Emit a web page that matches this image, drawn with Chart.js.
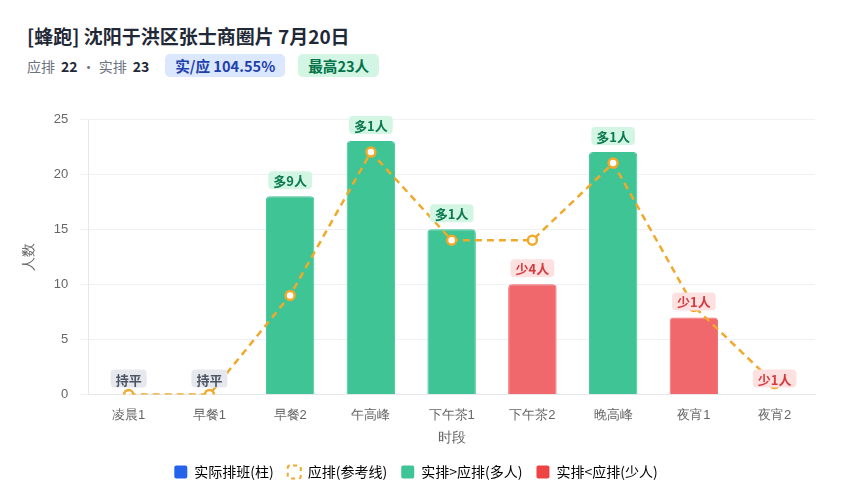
<!DOCTYPE html>
<html>
<head>
<meta charset="utf-8">
<script src="https://cdn.jsdelivr.net/npm/chart.js@4"></script>
<style>
  body { margin: 0; background: #fff; font-family: "Noto Sans CJK SC", "Noto Sans", sans-serif; }
  .head { position: absolute; left: 27px; top: 23px; }
  .title { font-size: 19px; font-weight: 700; color: #1f2937; line-height: 26px; }
  .sub { margin-top: 5px; font-size: 14px; color: #6b7280; display: flex; align-items: center; }
  .sub b { color: #1f2937; font-size: 14px; margin: 0 4px 0 6px; }
  .pill { font-weight: 700; font-size: 14.6px; padding: 2px 10px; border-radius: 5px; line-height: 19px; }
  .blue { background: #dbe7fc; color: #1e40af; margin-left: 12px; }
  .green { background: #d3f6e4; color: #05734a; margin-left: 13px; }
  .wrap { position: absolute; left: 0; top: 95px; width: 848px; height: 405px; }
</style>
</head>
<body>
<div class="head">
  <div class="title">[蜂跑] 沈阳于洪区张士商圈片 7月20日</div>
  <div class="sub">应排<b>22</b>· 实排<b>23</b><span class="pill blue">实/应 104.55%</span><span class="pill green">最高23人</span></div>
</div>
<div class="wrap"><canvas id="c"></canvas></div>
<script>
// 时段
const slots = ["凌晨1", "早餐1", "早餐2", "午高峰", "下午茶1", "下午茶2", "晚高峰", "夜宵1", "夜宵2"];
// 实际排班
const actual = [0, 0, 18, 23, 15, 10, 22, 7, 0];
// 应排
const planned = [0, 0, 9, 22, 14, 14, 21, 8, 1];
const yTicks = [0, 5, 10, 15, 20, 25];

const GREEN = "#3fc495", RED = "#f0686b", ORANGE = "#f0a92a";

const barColors = actual.map((v, i) => v >= planned[i] ? GREEN : RED);

// labels above bars: 多N人 / 少N人 / 持平
const diffLabels = {
    id: "diffLabels",
    afterDatasetsDraw(chart) {
        const ctx = chart.ctx;
        const meta = chart.getDatasetMeta(1);
        ctx.save();
        ctx.font = "bold 13px 'Noto Sans CJK SC', sans-serif";
        ctx.textAlign = "center";
        ctx.textBaseline = "middle";
        meta.data.forEach((bar, i) => {
            const d = actual[i] - planned[i];
            let text, bg, fg;
            if (d > 0) { text = "多" + d + "人"; bg = "#d3f6e4"; fg = "#0b7a50"; }
            else if (d < 0) { text = "少" + (-d) + "人"; bg = "#fde1e1"; fg = "#d63a3e"; }
            else { text = "持平"; bg = "#e6e8ee"; fg = "#4b5563"; }
            const x = bar.x, y = bar.y - 16;
            const w = ctx.measureText(text).width + 10, h = 18;
            ctx.fillStyle = bg;
            ctx.beginPath();
            ctx.roundRect(x - w / 2, y - h / 2, w, h, 4);
            ctx.fill();
            ctx.fillStyle = fg;
            ctx.fillText(text, x, y + 1);
        });
        ctx.restore();
    }
};

new Chart(document.getElementById("c"), {
    data: {
        labels: slots,
        datasets: [
            {
                type: "line",
                label: "应排(参考线)",
                data: planned,
                borderColor: ORANGE,
                borderWidth: 2.5,
                borderDash: [7, 5],
                pointRadius: 4.5,
                pointBorderWidth: 2.5,
                pointBackgroundColor: "#fff",
                pointBorderColor: ORANGE,
                tension: 0,
                order: 0
            },
            {
                type: "bar",
                label: "实际排班(柱)",
                data: actual,
                backgroundColor: barColors,
                borderColor: barColors,
                borderWidth: 1,
                borderRadius: { topLeft: 4, topRight: 4 },
                borderSkipped: "bottom",
                categoryPercentage: 0.6,
                barPercentage: 1,
                order: 1
            }
        ]
    },
    options: {
        responsive: true,
        maintainAspectRatio: false,
        animation: false,
        layout: { padding: { left: 17, right: 33, top: 24, bottom: 11 } },
        plugins: {
            tooltip: { enabled: false },
            legend: {
                position: "bottom",
                labels: {
                    font: { size: 14, family: "'Noto Sans CJK SC', sans-serif" },
                    color: "#555",
                    boxWidth: 13,
                    boxHeight: 13,
                    padding: 14,
                    generateLabels() {
                        return [
                            { text: "实际排班(柱)", fillStyle: "#2563eb", strokeStyle: "#2563eb", lineWidth: 0, borderRadius: 2 },
                            { text: "应排(参考线)", fillStyle: "rgba(0,0,0,0)", strokeStyle: ORANGE, lineWidth: 2, lineDash: [4, 4], borderRadius: 2 },
                            { text: "实排>应排(多人)", fillStyle: GREEN, strokeStyle: GREEN, lineWidth: 0, borderRadius: 2 },
                            { text: "实排<应排(少人)", fillStyle: "#ef4444", strokeStyle: "#ef4444", lineWidth: 0, borderRadius: 2 }
                        ];
                    }
                },
                onClick: null
            }
        },
        scales: {
            x: {
                grid: { display: false },
                border: { color: "#e5e7eb" },
                ticks: { color: "#666", font: { size: 13 }, padding: 5 },
                title: { display: true, text: "时段", color: "#666", font: { size: 14 }, padding: { top: 2, bottom: 4 } }
            },
            y: {
                min: 0,
                max: 25,
                afterBuildTicks(axis) { axis.ticks = yTicks.map(v => ({ value: v })); },
                grid: { color: "#f0f1f4" },
                border: { color: "#e5e7eb" },
                ticks: { color: "#666", font: { size: 13 }, padding: 12 },
                title: { display: true, text: "人数", color: "#666", font: { size: 14 } }
            }
        }
    },
    plugins: [diffLabels]
});
</script>
</body>
</html>
